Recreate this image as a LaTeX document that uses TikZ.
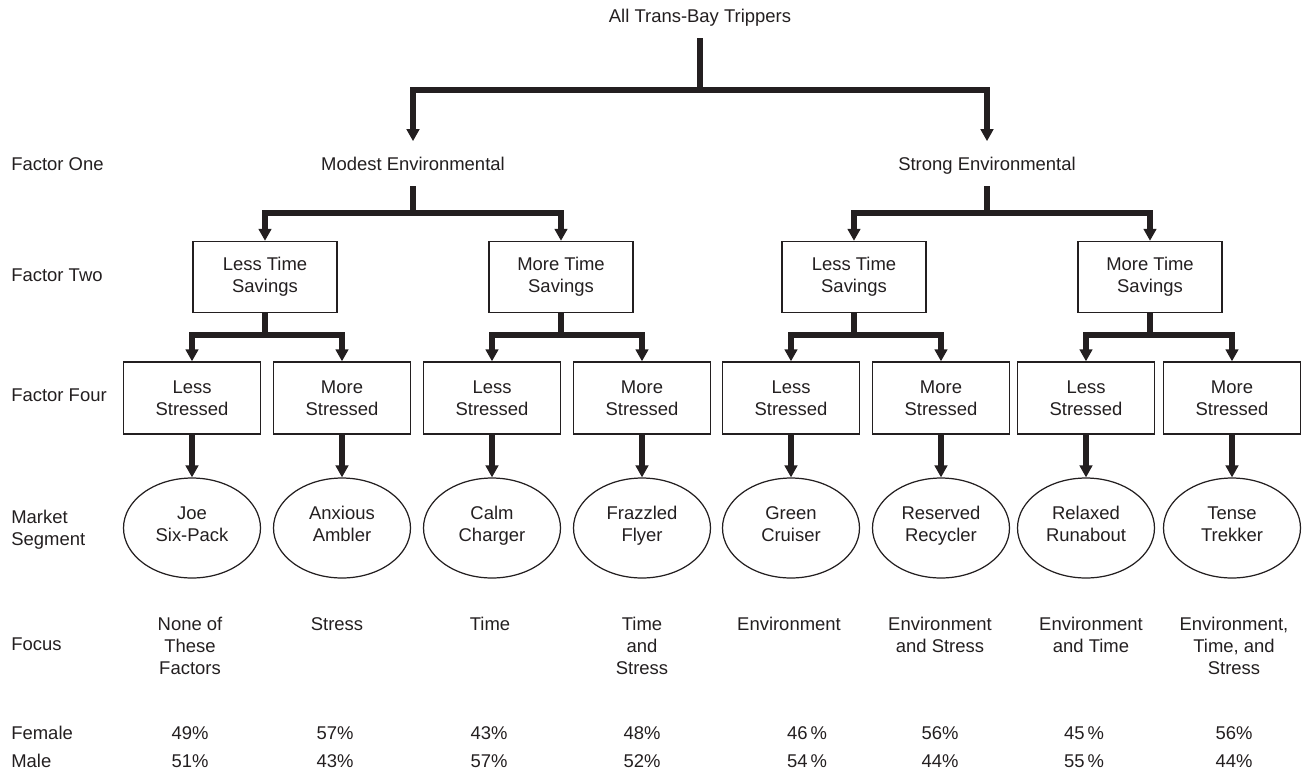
\documentclass[tikz,border=0pt]{standalone}
\usepackage{fontspec}
\setmainfont{Liberation Sans}
\usetikzlibrary{arrows.meta,shapes.geometric}
\definecolor{ink}{HTML}{231F20}

\begin{document}
\begin{tikzpicture}[x=0.02cm,y=-0.02cm,>={Triangle[width=0.25cm,length=0.24cm]},
 font=\fontsize{10.5}{12.5}\selectfont,color=ink,
 lbl/.style={anchor=base,inner xsep=0pt,inner ysep=0.3cm,text height=0.27cm,text depth=0.02cm},
 row/.style={anchor=base west,inner sep=0pt,align=left},
 tbox/.style={draw,line width=0.8pt,minimum width=2.88cm,minimum height=1.42cm,inner sep=0pt,align=center},
 sbox/.style={draw,line width=0.8pt,minimum width=2.74cm,minimum height=1.44cm,inner sep=0pt,align=center},
 seg/.style={draw,ellipse,line width=0.7pt,minimum width=2.74cm,minimum height=2cm,inner sep=0pt,
   align=center,text height=0.71cm,text depth=0.19cm},
 focus/.style={anchor=north,inner sep=0pt,align=center},
 pct/.style={anchor=base,inner sep=0pt},
 link/.style={line width=0.12cm},
 arr/.style={link,->}]
\useasboundingbox (0,0) rectangle (1303,772);

\node[lbl] (all) at (700,22) {All Trans-Bay Trippers};
\node[lbl] (mod) at (413,170) {Modest Environmental};
\node[lbl] (str) at (987,170) {Strong Environmental};

\node[row] (r1) at (11,170) {Factor One};
\node[row] (r2) at (11,281) {Factor Two};
\node[row] (r4) at (11,401) {Factor Four};
\node[row,anchor=north west] (r5) at (11,510) {Market\\Segment};
\node[row] (r6) at (11,650) {Focus};
\node[row] (r7) at (11,739) {Female};
\node[row] (r8) at (11,767) {Male};

\node[tbox] (lt1) at (265,277) {Less Time\\Savings};
\node[tbox] (mt1) at (561,277) {More Time\\Savings};
\node[tbox] (lt2) at (854,277) {Less Time\\Savings};
\node[tbox] (mt2) at (1150,277) {More Time\\Savings};

\foreach \n/\x/\t in {f1/192/Less,f2/342/More,f3/492/Less,f4/642/More,
  f5/791/Less,f6/941/More,f7/1086/Less,f8/1232/More}
  \node[sbox] (\n) at (\x,398) {\t\\Stressed};

\foreach \n/\x/\t in {s1/192/{Joe\\Six-Pack},s2/342/{Anxious\\Ambler},s3/492/{Calm\\Charger},
  s4/642/{Frazzled\\Flyer},s5/791/{Green\\Cruiser},s6/941/{Reserved\\Recycler},
  s7/1086/{Relaxed\\Runabout},s8/1232/{Tense\\Trekker}}
  \node[seg] (\n) at (\x,528) {\t};

\foreach \i/\x/\t in {1/190/{None of\\These\\Factors},2/337/Stress,3/490/Time,4/642/{Time\\and\\Stress},
  5/789/Environment,6/940/{Environment\\and Stress},7/1091/{Environment\\and Time},
  8/1234/{Environment,\\Time, and\\Stress}}
  \node[focus] (fo\i) at (\x,617) {\t};

\foreach \i/\x/\f/\m in {1/190/49/51,2/335/57/43,3/489/43/57,4/642/48/52,
  5/807/{46\,}/{54\,},6/940/56/44,7/1084/{45\,}/{55\,},8/1234/56/44} {
  \node[pct] (fe\i) at (\x,739) {\f\%};
  \node[pct] (ma\i) at (\x,767) {\m\%};
}

\coordinate (j0) at (700,90);
\coordinate (j1) at (413,213);
\coordinate (j2) at (987,213);
\draw[link] (all.south) -- (j0);
\draw[link] (mod.south) -- (j1);
\draw[link] (str.south) -- (j2);
\foreach \a/\b in {j0/mod,j0/str,j1/lt1,j1/mt1,j2/lt2,j2/mt2}
  \draw[arr] (\a) -| (\b.north);

\foreach \t/\l/\m in {lt1/f1/f2,mt1/f3/f4,lt2/f5/f6,mt2/f7/f8} {
  \draw[link] (\t.south) -- ++(0,22) coordinate (j);
  \draw[arr] (j) -| (\l.north);
  \draw[arr] (j) -| (\m.north);
}
\foreach \i in {1,...,8} \draw[arr] (f\i) -- (s\i);
\end{tikzpicture}
\end{document}
